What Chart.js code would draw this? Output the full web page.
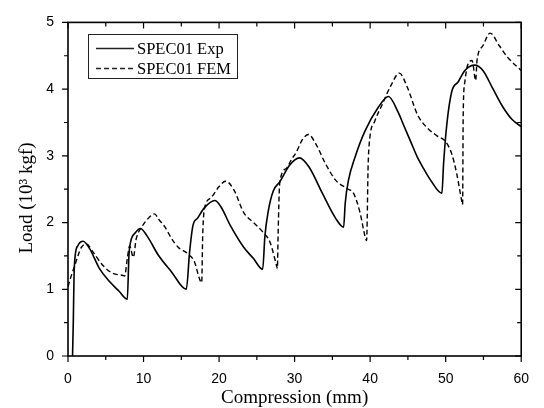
<!DOCTYPE html>
<html>
<head>
<meta charset="utf-8">
<script src="https://cdn.jsdelivr.net/npm/chart.js@4.4.1/dist/chart.umd.min.js"></script>
<style>
  html, body { margin: 0; padding: 0; background: #fff; }
</style>
</head>
<body>
<canvas id="chart" width="544" height="408"></canvas>
<script>
// values (compression in mm, load in 10^3 kgf)
let expX = [0.6, 0.7, 0.8, 0.95, 1.34, 2.0, 2.86, 4.17, 5.47, 6.77, 7.85, 8.07, 8.29, 8.94, 9.59, 10.46, 11.97, 13.71, 15.66,
  16.1, 16.53, 17.18, 18.05, 19.44, 20.22, 21.52, 23.26, 24.56, 25.77, 26.07, 26.51, 27.16, 28.03, 29.33, 30.63, 31.93,
  33.67, 35.4, 36.49, 36.7, 37.14, 38.0, 39.31, 41.04, 42.43, 43.64, 44.51, 45.38, 46.25, 47.12, 47.98, 49.5, 49.72, 50.15,
  50.8, 51.67, 52.54, 53.85, 54.93, 56.23, 57.53, 58.83, 60.0]
let expY = [0, 0.5, 1.2, 1.5, 1.66, 1.72, 1.61, 1.31, 1.12, 0.97, 0.85, 1.51, 1.71, 1.85, 1.91, 1.8, 1.51, 1.26, 1.0,
  1.56, 1.95, 2.07, 2.22, 2.33, 2.24, 1.95, 1.63, 1.46, 1.3, 1.8, 2.17, 2.47, 2.61, 2.86, 2.97, 2.83,
  2.44, 2.07, 1.93, 2.29, 2.64, 2.98, 3.37, 3.72, 3.89, 3.67, 3.44, 3.21, 2.98, 2.8, 2.64, 2.44, 2.88, 3.47,
  3.96, 4.11, 4.28, 4.36, 4.28, 4.01, 3.74, 3.54, 3.44]

let femX = [0, 0.48, 0.91, 1.34, 1.78, 2.43, 3.3, 4.6, 5.9, 7.2, 7.5, 7.85, 8.16, 8.65, 9.02, 9.8, 10.6, 11.45, 12.0,
  12.85, 13.71, 14.58, 15.88, 16.75, 17.4, 17.7, 17.83, 18.05, 18.92, 20.0, 20.87, 21.96, 23.26, 24.56, 25.86, 26.73,
  27.6, 27.72, 27.81, 28.03, 28.9, 29.6, 30.2, 31.07, 31.85, 32.8, 34.1, 35.4, 36.92, 37.79, 38.66, 39.31, 39.53,
  39.74, 39.96, 40.61, 41.48, 42.78, 43.86, 44.95, 46.25, 47.55, 48.85, 49.94, 50.8, 51.45, 52.1, 52.24, 52.32,
  52.54, 52.97, 53.5, 53.97, 54.15, 54.93, 55.88, 57.1, 58.18, 60.0]
let femY = [1.04, 1.22, 1.36, 1.51, 1.63, 1.68, 1.56, 1.36, 1.24, 1.21, 1.2, 1.46, 1.65, 1.48, 1.75, 1.94, 2.06, 2.13, 2.05,
  1.93, 1.76, 1.63, 1.53, 1.41, 1.16, 1.1, 1.8, 2.2, 2.37, 2.54, 2.62, 2.49, 2.15, 2.0, 1.85, 1.71,
  1.36, 1.31, 1.8, 2.59, 2.81, 2.95, 3.05, 3.25, 3.32, 3.18, 2.88, 2.64, 2.51, 2.44, 2.15, 1.8, 1.73,
  2.88, 3.27, 3.52, 3.74, 4.06, 4.24, 4.02, 3.62, 3.42, 3.3, 3.22, 3.03, 2.74, 2.34, 2.27, 3.62,
  4.11, 4.38, 4.43, 4.13, 4.43, 4.65, 4.84, 4.65, 4.48, 4.28]

let seriesNames = ["SPEC01 Exp", "SPEC01 FEM"]
let xTicks = [0, 10, 20, 30, 40, 50, 60]
let xMinor = [5, 15, 25, 35, 45, 55]
let yTicks = [0, 1, 2, 3, 4, 5]
let yMinor = [0.5, 1.5, 2.5, 3.5, 4.5]

const serif = '"Liberation Serif", "Times New Roman", serif'
const sans = '"Liberation Sans", Arial, sans-serif'

function toPoints(xs, ys) {
  return xs.map((x, i) => ({ x: x, y: ys[i] }))
}

// box round the plot, ticks on all four sides, y title and legend
const frame = {
  id: 'frame',
  afterDraw(chart) {
    let ctx = chart.ctx
    let a = chart.chartArea
    let sx = chart.scales.x
    let sy = chart.scales.y
    ctx.save()
    ctx.strokeStyle = '#000'
    ctx.lineWidth = 1.6
    ctx.strokeRect(a.left, a.top, a.right - a.left, a.bottom - a.top)

    ctx.lineWidth = 1.2
    ctx.beginPath()
    let xt = (v, len) => {
      let px = sx.getPixelForValue(v)
      ctx.moveTo(px, a.bottom); ctx.lineTo(px, a.bottom + len)
      ctx.moveTo(px, a.top); ctx.lineTo(px, a.top + len)
    }
    let yt = (v, len) => {
      let py = sy.getPixelForValue(v)
      ctx.moveTo(a.left, py); ctx.lineTo(a.left - len, py)
      ctx.moveTo(a.right, py); ctx.lineTo(a.right - len, py)
    }
    xTicks.forEach(v => xt(v, 6))
    xMinor.forEach(v => xt(v, 4))
    yTicks.forEach(v => yt(v, 6))
    yMinor.forEach(v => yt(v, 4))
    ctx.stroke()

    // y axis title
    ctx.fillStyle = '#000'
    ctx.font = '19px ' + serif
    ctx.textAlign = 'center'
    ctx.textBaseline = 'middle'
    ctx.save()
    ctx.translate(27, 198)
    ctx.rotate(-Math.PI / 2)
    ctx.fillText('Load (10\u00B3 kgf)', 0, 0)
    ctx.restore()

    // legend box
    ctx.lineWidth = 1
    ctx.strokeStyle = '#222'
    ctx.strokeRect(88.5, 34.5, 149, 44)
    ctx.font = '16.5px ' + serif
    ctx.textAlign = 'left'
    chart.data.datasets.forEach((ds, i) => {
      let y = 48.5 + i * 20
      ctx.beginPath()
      ctx.lineWidth = ds.borderWidth
      ctx.setLineDash(ds.borderDash || [])
      ctx.moveTo(96, y)
      ctx.lineTo(134, y)
      ctx.stroke()
      ctx.setLineDash([])
      ctx.fillText(ds.label, 137, y + 1)
    })
    ctx.restore()
  }
}

new Chart(document.getElementById('chart'), {
  type: 'scatter',
  data: {
    datasets: [
      {
        label: seriesNames[0],
        data: toPoints(expX, expY),
        showLine: true,
        borderColor: '#000',
        borderWidth: 1.6,
        pointRadius: 0,
        cubicInterpolationMode: 'monotone'
      },
      {
        label: seriesNames[1],
        data: toPoints(femX, femY),
        showLine: true,
        borderColor: '#000',
        borderWidth: 1.4,
        borderDash: [5, 3],
        pointRadius: 0,
        cubicInterpolationMode: 'monotone'
      }
    ]
  },
  options: {
    responsive: false,
    animation: false,
    layout: { padding: { top: 16, right: 15, left: 0, bottom: 0 } },
    plugins: {
      legend: { display: false },
      tooltip: { enabled: false }
    },
    scales: {
      x: {
        type: 'linear',
        min: 0,
        max: 60,
        afterBuildTicks: s => { s.ticks = xTicks.map(v => ({ value: v })) },
        afterFit: s => { s.height = 52 },
        grid: { display: false, drawTicks: false },
        border: { display: false },
        ticks: { padding: 15, color: '#000', font: { family: sans, size: 14 } },
        title: {
          display: true,
          text: 'Compression (mm)',
          color: '#000',
          font: { family: serif, size: 19, lineHeight: 1 },
          padding: 0
        }
      },
      y: {
        type: 'linear',
        min: 0,
        max: 5,
        afterBuildTicks: s => { s.ticks = yTicks.map(v => ({ value: v })) },
        afterFit: s => { s.width = 68 },
        grid: { display: false, drawTicks: false },
        border: { display: false },
        ticks: { padding: 14, color: '#000', font: { family: sans, size: 14 } }
      }
    }
  },
  plugins: [frame]
})
</script>
</body>
</html>
